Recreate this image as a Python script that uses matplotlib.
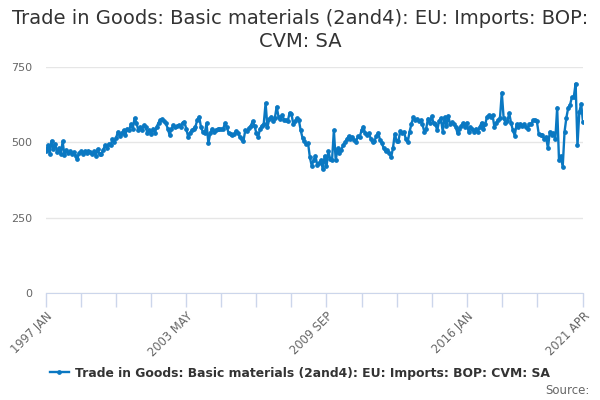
import matplotlib
matplotlib.use("Agg")
import matplotlib.pyplot as plt
import pandas as pd

months = pd.date_range("1997-01-01", "2021-04-01", freq="MS")
categories = [f"{d.year} {d.strftime('%b').upper()}" for d in months]

seg_1997 = [470, 490, 462, 505, 478, 495, 468, 480, 460, 503,
            458, 475, 465, 470, 462, 468, 455, 445, 465, 470,
            462, 470, 465, 472, 468, 460, 470, 455, 478, 460,
            462, 475, 490, 482, 495, 490, 510, 500, 515, 535,
            520, 530, 540, 525, 545, 540, 560, 545, 580, 565,
            541]
seg_2001 = [550, 540, 557, 550, 530, 540, 528, 545, 530,
            552, 565, 574, 576, 570, 563, 545, 524, 545, 557,
            552, 554, 557, 552, 565, 568, 545, 519, 530, 540,
            545, 552, 575, 585, 550, 535, 530, 563, 497, 530,
            545, 535, 541, 543, 545, 543, 545, 563, 550, 530]
seg_2005 = [527, 525, 528, 538, 532, 518, 512, 505, 540, 538,
            548, 555, 570, 555, 530, 518, 545, 555, 562, 630,
            550, 578, 585, 570, 580, 618, 585, 578, 590, 575,
            573, 570, 598, 595, 560, 570, 580, 575, 540, 515,
            505, 493, 498, 450, 422, 440, 455, 425, 430, 440,
            410]
seg_2009 = [455, 420, 470, 445, 440, 540, 440, 480, 465,
            475, 490, 500, 510, 520, 512, 518, 508, 502, 520,
            518, 540, 552, 530, 525, 530, 512, 500, 505, 520,
            532, 508, 498, 480, 470, 475, 465, 450, 480, 528,
            505, 505, 538, 530, 535, 510, 500, 535, 560, 583,
            575, 578, 570]
seg_2013 = [573, 560, 535, 545, 579, 565, 586,
            565, 560, 540, 570, 580, 535, 584, 555, 588, 560,
            566, 562, 552, 530, 545, 555, 563, 552, 565, 535,
            550, 545, 535, 545, 535, 550, 565, 545, 560, 585,
            590, 585, 590, 550, 565, 575, 580, 665, 580]
seg_2017 = [565, 570, 597, 565, 540, 522, 560, 550, 562, 555, 560,
            550, 545, 560, 562, 573, 575, 570, 528, 525, 525,
            510, 518, 480, 535, 525, 530, 510, 615, 440, 455,
            418, 535, 582, 615, 625, 650, 650, 695, 490, 600,
            628, 567]
values = seg_1997 + seg_2001 + seg_2005 + seg_2009 + seg_2013 + seg_2017
assert len(values) == len(categories)

series_name = "Trade in Goods: Basic materials (2and4): EU: Imports: BOP: CVM: SA"
title = "Trade in Goods: Basic materials (2and4): EU: Imports: BOP:\nCVM: SA"
yticks = [0, 250, 500, 750]

color = "#0a78c2"
fig = plt.figure(figsize=(6, 4), dpi=100)
ax = fig.add_axes([46/600, 1-293/400, (583-46)/600, (293-67)/400])

x = list(range(len(values)))
ax.plot(x, values, color=color, lw=1.7, marker="o", ms=2.4, zorder=3)

ax.set_xlim(0, len(values) - 1)
ax.set_ylim(0, 750)
ax.set_yticks(yticks)
ax.set_yticklabels([str(v) for v in yticks], color="#666666", fontsize=8)
ax.yaxis.grid(True, color="#e6e6e6", lw=1)
ax.set_axisbelow(True)
ax.tick_params(axis="y", length=0, pad=10)

tick_pos = list(range(0, len(values) - 20, 19)) + [len(values) - 1]
ax.set_xticks(tick_pos)
lab_idx = [0, 76, 152, 228, len(values) - 1]
ax.set_xticklabels([categories[i] if i in lab_idx else "" for i in tick_pos],
                   rotation=45, ha="right", rotation_mode="anchor",
                   color="#666666", fontsize=8.3)
ax.tick_params(axis="x", length=10, color="#ccd6eb", width=1, pad=2)

for s in ["top", "right", "left"]:
    ax.spines[s].set_visible(False)
ax.spines["bottom"].set_color("#ccd6eb")

fig.text(0.5, 1-30/400, title, ha="center", va="center", fontsize=14,
         color="#333333", linespacing=1.25)

h, = ax.plot([], [], color=color, lw=1.7, marker="o", ms=2.4)
fig.legend([h], [series_name], loc="center", bbox_to_anchor=(0.5, 1-373/400),
           frameon=False, prop={"weight": "bold", "size": 8.9}, labelcolor="#333333",
           handlelength=1.5, handletextpad=0.5)
fig.text(0.982, 1-390/400, "Source:", ha="right", va="center",
         fontsize=8.5, color="#666666")

fig.savefig("out.png", dpi=100)
